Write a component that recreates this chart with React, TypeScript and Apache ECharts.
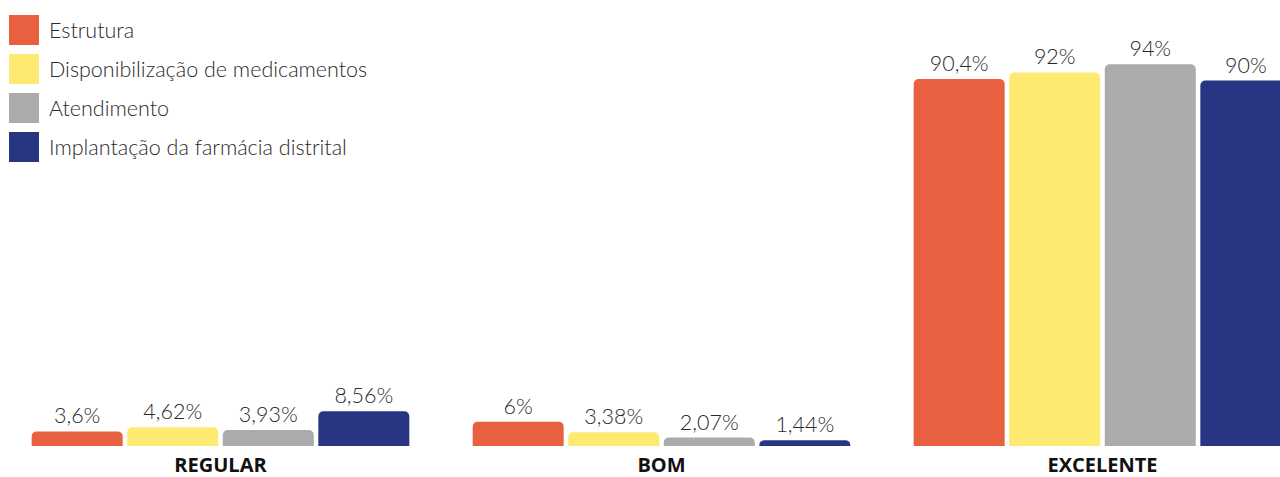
import React, { useEffect, useRef } from "react";
import * as echarts from "echarts";

const categories = ["REGULAR", "BOM", "EXCELENTE"];
const seriesNames = [
  "Estrutura",
  "Disponibilização de medicamentos",
  "Atendimento",
  "Implantação da farmácia distrital",
];
const estrutura = [3.6, 6, 90.4];
const disponibilizacao = [4.62, 3.38, 92];
const atendimento = [3.93, 2.07, 94];
const implantacao = [8.56, 1.44, 90];
const colors = ["#E8603F", "#FEE971", "#ABABAB", "#283583"];

const fmt = (v: number) => String(v).replace(".", ",") + "%";

export default function App() {
  const ref = useRef<HTMLDivElement>(null);
  useEffect(() => {
    if (!ref.current) return;
    const chart = echarts.init(ref.current, undefined, { renderer: "svg" });
    const values = [estrutura, disponibilizacao, atendimento, implantacao];
    chart.setOption({
      animation: false,
      legend: {
        orient: "vertical",
        left: 9,
        top: 15,
        padding: 0,
        itemWidth: 30,
        itemHeight: 30,
        itemGap: 9,
        icon: "rect",
        textStyle: {
          fontFamily: "Lato",
          fontWeight: 300,
          fontSize: 21.5,
          color: "#2a2a2a",
          padding: [0, 0, 0, 5],
        },
        data: seriesNames,
      },
      grid: { left: 0, width: 1323, top: 40, bottom: 31, outerBoundsMode: "none", containLabel: false },
      xAxis: {
        type: "category",
        data: categories,
        axisLine: { show: false },
        axisTick: { show: false },
        axisLabel: {
          margin: 8,
          fontFamily: "Open Sans",
          fontWeight: "bold",
          fontSize: 20,
          color: "#111",
        },
      },
      yAxis: { type: "value", min: 0, max: 100, show: false, splitLine: { show: false } },
      series: values.map((d, i) => ({
        type: "bar",
        name: seriesNames[i],
        data: d,
        barWidth: 91,
        barGap: "5%",
        itemStyle: { color: colors[i], borderRadius: [5, 5, 0, 0] },
        label: {
          show: true,
          position: "top",
          distance: 5,
          fontFamily: "Lato",
          fontWeight: 300,
          fontSize: 21.5,
          color: "#2a2a2a",
          formatter: (p: any) => fmt(p.value),
        },
      })),
    });
    return () => chart.dispose();
  }, []);
  return (
    <div
      ref={ref}
      style={{ position: "fixed", left: 0, top: 0, width: 1280, height: 477, background: "#fff" }}
    />
  );
}
